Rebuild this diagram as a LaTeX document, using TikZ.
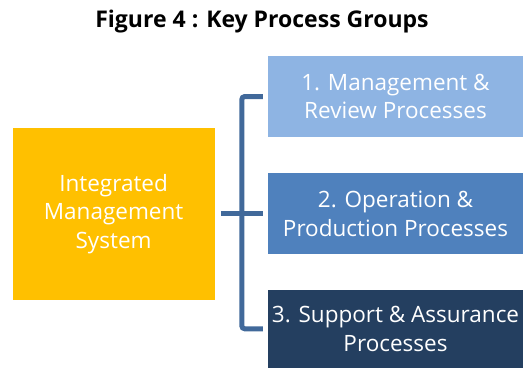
\documentclass[tikz,border=0pt]{standalone}
\usepackage{fontspec}
\setmainfont{Open Sans}
\usetikzlibrary{positioning,calc}

\definecolor{imsyellow}{HTML}{FFC000}
\definecolor{grpA}{HTML}{8EB4E3}
\definecolor{grpB}{HTML}{4F81BD}
\definecolor{grpC}{HTML}{243F60}
\definecolor{barblue}{HTML}{41699A}

\begin{document}
\begin{tikzpicture}[
  x=1pt, y=1pt,
  node distance=36pt,
  box/.style={fill=#1, text=white, align=center, minimum width=255pt, minimum height=81pt, inner sep=0pt, font=\fontsize{22.5}{28.5}\selectfont},
  bar/.style={draw=barblue, line width=5pt, rounded corners=3pt},
  lbl/.style={font=\bfseries\fontsize{23}{28}\selectfont}]

\useasboundingbox (0,0) rectangle (532,-367);

\node[lbl] (title) at (262,-22) {Figure 4 : Key Process Groups};

\node[box=grpA] (g1) at (395.5,-96.5) {1. Management \&\\Review Processes};
\node[box=grpB, below=36pt of g1] (g2) {2. Operation \&\\Production Processes};
\node[box=grpC, below=35pt of g2, minimum height=78pt] (g3) {3. Support \& Assurance\\Processes};

\node[box=imsyellow, minimum width=202pt, minimum height=172pt, left=53pt of g2] (ims) {Integrated\\Management\\System};

% bracket joining the system to the three groups
\draw[bar] ([xshift=-5pt]g1.west) -| ([xshift=-26pt]g2.west) |- ([xshift=-5pt]g3.west);
\draw[bar] ([xshift=6pt]ims.east) -- ([xshift=-5pt]g2.west);

\end{tikzpicture}
\end{document}
